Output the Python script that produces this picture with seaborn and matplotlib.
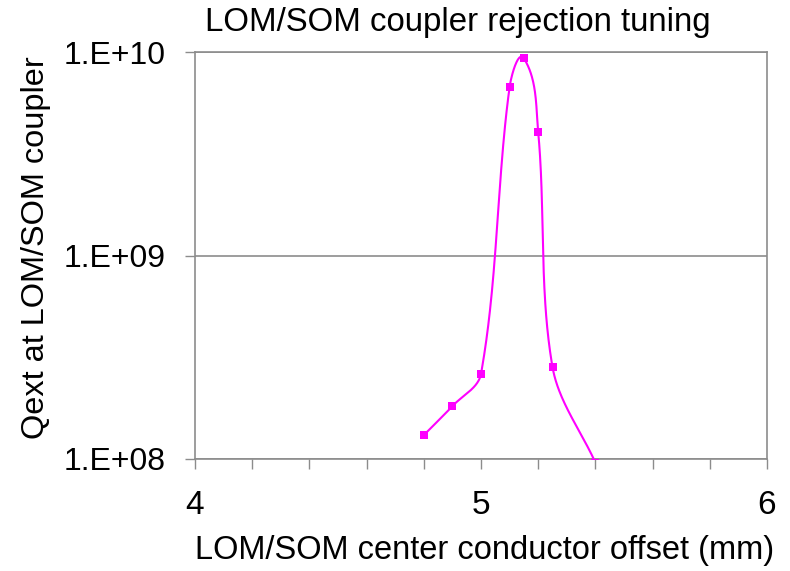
import numpy as np
import pandas as pd
import matplotlib
matplotlib.use("Agg")
import matplotlib.pyplot as plt
import seaborn as sns
from matplotlib.ticker import FixedLocator, MultipleLocator

# ---- data ----
offset_mm = [4.80, 4.90, 5.00, 5.10, 5.15, 5.20, 5.25, 5.40]
qext = [1.31e8, 1.82e8, 2.62e8, 6.73e9, 9.30e9, 4.04e9, 2.83e8, 9.6e7]
y_ticks = [1e8, 1e9, 1e10]
y_tick_labels = ["1.E+08", "1.E+09", "1.E+10"]
x_ticks = [4, 5, 6]
x_tick_labels = ["4", "5", "6"]

title = "LOM/SOM coupler rejection tuning"
xlabel = "LOM/SOM center conductor offset (mm)"
ylabel = "Qext at LOM/SOM coupler"

sns.set_style("white")
plt.rcParams["font.family"] = ["Liberation Sans", "DejaVu Sans"]
plt.rcParams["text.color"] = "black"

COLOR = "#FF00FF"
GRID = "#8c8c8c"

# Excel-like smoothing: Bezier segments, tangent from neighbours,
# handle length proportional to the segment length (screen-like space)
def smooth(xs, ys, n=60, sx=286.0, sy=203.5, k=1/3):
    P = np.column_stack([np.asarray(xs) * sx, np.log10(ys) * sy])
    m = len(P)
    T = np.zeros_like(P)
    for i in range(m):
        a = P[max(i - 1, 0)]
        b = P[min(i + 1, m - 1)]
        d = b - a
        T[i] = d / np.linalg.norm(d)
    out = []
    for i in range(m - 1):
        p1, p2 = P[i], P[i + 1]
        L = np.linalg.norm(p2 - p1)
        c1 = p1 + T[i] * L * k
        c2 = p2 - T[i + 1] * L * k
        t = np.linspace(0, 1, n)[:, None]
        seg = ((1 - t) ** 3) * p1 + 3 * ((1 - t) ** 2) * t * c1 + 3 * (1 - t) * t ** 2 * c2 + t ** 3 * p2
        out.append(seg if i == 0 else seg[1:])
    S = np.vstack(out)
    return S[:, 0] / sx, 10 ** (S[:, 1] / sy)

cx, cy = smooth(offset_mm, qext)
curve = pd.DataFrame({"x": cx, "y": cy})
pts = pd.DataFrame({"x": offset_mm, "y": qext})

fig = plt.figure(figsize=(7.9, 5.71), dpi=100)
ax = fig.add_axes([195 / 790, 1 - 459 / 571, (767 - 195) / 790, (459 - 52) / 571])

ax.set_yscale("log")
sns.lineplot(data=curve, x="x", y="y", sort=False, estimator=None, color=COLOR,
             lw=1.5, ax=ax, zorder=3)
sns.scatterplot(data=pts, x="x", y="y", marker="s", s=32, color=COLOR,
                edgecolor=COLOR, linewidth=0, ax=ax, zorder=4)

ax.set_xlim(4, 6)
ax.set_ylim(1e8, 1e10)

ax.xaxis.set_major_locator(FixedLocator(x_ticks))
ax.set_xticklabels(x_tick_labels)
ax.xaxis.set_minor_locator(MultipleLocator(0.2))
ax.yaxis.set_major_locator(FixedLocator(y_ticks))
ax.set_yticklabels(y_tick_labels)
ax.yaxis.set_minor_locator(FixedLocator([]))

ax.tick_params(axis="both", which="both", direction="out", length=7, width=1,
               color=GRID, bottom=True, left=True, top=False, right=False)
ax.tick_params(axis="x", which="major", labelsize=24, pad=15, labelcolor="black")
ax.tick_params(axis="y", which="major", labelsize=23, pad=14, labelcolor="black")

ax.grid(axis="y", which="major", color=GRID, lw=1.2)
ax.set_axisbelow(True)
for sp in ax.spines.values():
    sp.set_color(GRID)
    sp.set_linewidth(1.2)

ax.set_xlabel("")
ax.set_ylabel("")
fig.text(485 / 790, 1 - 551 / 571, xlabel, ha="center", va="center", fontsize=23.5, color="black")
fig.text(36 / 790, 1 - 248 / 571, ylabel, ha="center", va="center", fontsize=23.4, rotation=90, color="black")
fig.text(205 / 790, 1 - 22 / 571, title, ha="left", va="center", fontsize=23.8, color="black")

fig.savefig("out.png", dpi=100)
